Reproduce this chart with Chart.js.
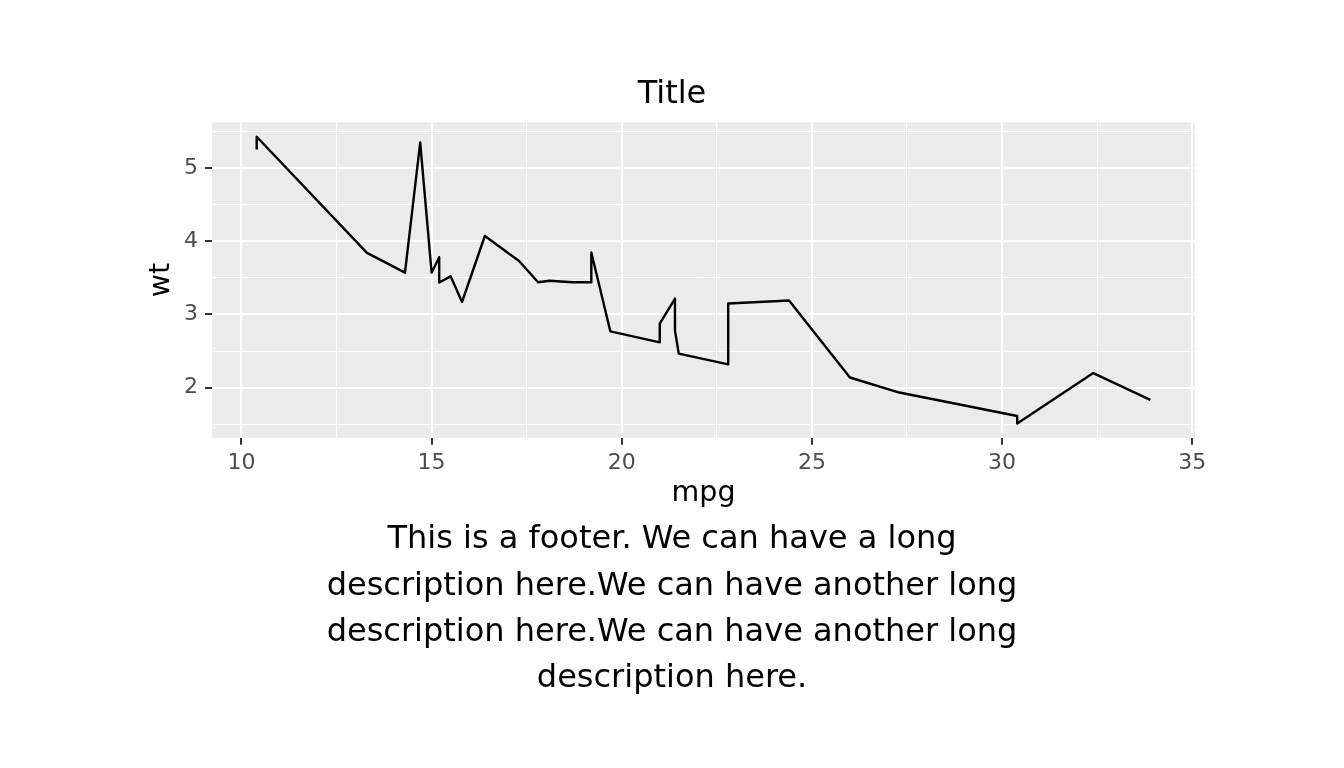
<!DOCTYPE html>
<html>
<head>
<meta charset="utf-8">
<title>mpg vs wt</title>
<script src="https://cdn.jsdelivr.net/npm/chart.js@4"></script>
<style>
  body { margin: 0; background: #ffffff; }
  canvas { display: block; }
</style>
</head>
<body>
<canvas id="chart" width="1344" height="768"></canvas>
<script>
// mtcars, ordered by mpg (ties keep data order, like geom_line)
const mpg = [10.4, 10.4, 13.3, 14.3, 14.7, 15.0, 15.2, 15.2, 15.5, 15.8, 16.4, 17.3, 17.8, 18.1, 18.7, 19.2,
  19.2, 19.7, 21.0, 21.0, 21.4, 21.4, 21.5, 22.8, 22.8, 24.4, 26.0, 27.3, 30.4, 30.4, 32.4, 33.9];
const wt = [5.250, 5.424, 3.840, 3.570, 5.345, 3.570, 3.780, 3.435, 3.520, 3.170, 4.070, 3.730, 3.440, 3.460, 3.440, 3.440,
  3.845, 2.770, 2.620, 2.875, 3.215, 2.780, 2.465, 2.320, 3.150, 3.190, 2.140, 1.935, 1.615, 1.513, 2.200, 1.835];

const xMajor = [10, 15, 20, 25, 30, 35];
const xMinor = [12.5, 17.5, 22.5, 27.5, 32.5];
const yMajor = [2, 3, 4, 5];
const yMinor = [1.5, 2.5, 3.5, 4.5, 5.5];

const titleText = 'Title';
const xTitle = 'mpg';
const yTitle = 'wt';
const footerLines = [
  'This is a footer. We can have a long',
  'description here.We can have another long',
  'description here.We can have another long',
  'description here.'
];

document.addEventListener('DOMContentLoaded', function() {
  const font = 'DejaVu Sans';
  const points = mpg.map((x, i) => ({ x: x, y: wt[i] }));

  // ggplot style expansion of 5% on each side
  const xPad = (Math.max(...mpg) - Math.min(...mpg)) * 0.05;
  const yPad = (Math.max(...wt) - Math.min(...wt)) * 0.05;

  const panelBg = {
    id: 'panelBg',
    beforeDraw(chart) {
      const a = chart.chartArea;
      const ctx = chart.ctx;
      ctx.save();
      ctx.fillStyle = '#EBEBEB';
      ctx.fillRect(a.left, a.top, a.right - a.left, a.bottom - a.top);
      ctx.restore();
    }
  };

  function gridFor(major) {
    return {
      drawOnChartArea: true,
      color: '#FFFFFF',
      lineWidth: ctx => major.includes(ctx.tick && ctx.tick.value) ? 2 : 1,
      tickColor: ctx => major.includes(ctx.tick && ctx.tick.value) ? '#333333' : 'rgba(0,0,0,0)',
      tickWidth: 2,
      tickLength: 7
    };
  }

  new Chart(document.getElementById('chart'), {
    type: 'line',
    data: {
      datasets: [{
        data: points,
        borderColor: '#000000',
        borderWidth: 2.4,
        borderJoinStyle: 'round',
        borderCapStyle: 'butt',
        pointRadius: 0,
        tension: 0,
        fill: false
      }]
    },
    options: {
      responsive: false,
      animation: false,
      layout: { padding: { left: 149, right: 149, top: 0, bottom: 66 } },
      plugins: {
        legend: { display: false },
        tooltip: { enabled: false },
        title: {
          display: true,
          text: titleText,
          color: '#000000',
          font: { family: font, size: 32, weight: 'normal', lineHeight: 1.2 },
          padding: { top: 75, bottom: 9 }
        },
        subtitle: {
          display: true,
          position: 'bottom',
          text: footerLines,
          color: '#000000',
          font: { family: font, size: 32, weight: 'normal', lineHeight: 46.3 / 32 },
          padding: { top: 2, bottom: 0 }
        }
      },
      scales: {
        x: {
          type: 'linear',
          min: Math.min(...mpg) - xPad,
          max: Math.max(...mpg) + xPad,
          afterBuildTicks: s => { s.ticks = xMajor.concat(xMinor).sort((a, b) => a - b).map(v => ({ value: v })); },
          afterFit: s => { s.height = 77; },
          border: { display: false },
          grid: gridFor(xMajor),
          ticks: {
            autoSkip: false,
            maxRotation: 0,
            padding: 5,
            color: '#4D4D4D',
            font: { family: font, size: 22 },
            callback: v => xMajor.includes(v) ? String(v) : ''
          },
          title: {
            display: true,
            text: xTitle,
            color: '#000000',
            font: { family: font, size: 28.5, lineHeight: 1.2 },
            padding: { top: 2, bottom: 4 }
          }
        },
        y: {
          type: 'linear',
          min: Math.min(...wt) - yPad,
          max: Math.max(...wt) + yPad,
          afterBuildTicks: s => { s.ticks = yMajor.concat(yMinor).sort((a, b) => a - b).map(v => ({ value: v })); },
          afterFit: s => { s.width = 63; },
          border: { display: false },
          grid: gridFor(yMajor),
          ticks: {
            autoSkip: false,
            padding: 7,
            color: '#4D4D4D',
            font: { family: font, size: 22 },
            callback: v => yMajor.includes(v) ? String(v) : ''
          },
          title: {
            display: true,
            text: yTitle,
            color: '#000000',
            font: { family: font, size: 28.5, lineHeight: 0.9 },
            padding: { top: 0, bottom: 0 }
          }
        }
      }
    },
    plugins: [panelBg]
  });
});
</script>
</body>
</html>
